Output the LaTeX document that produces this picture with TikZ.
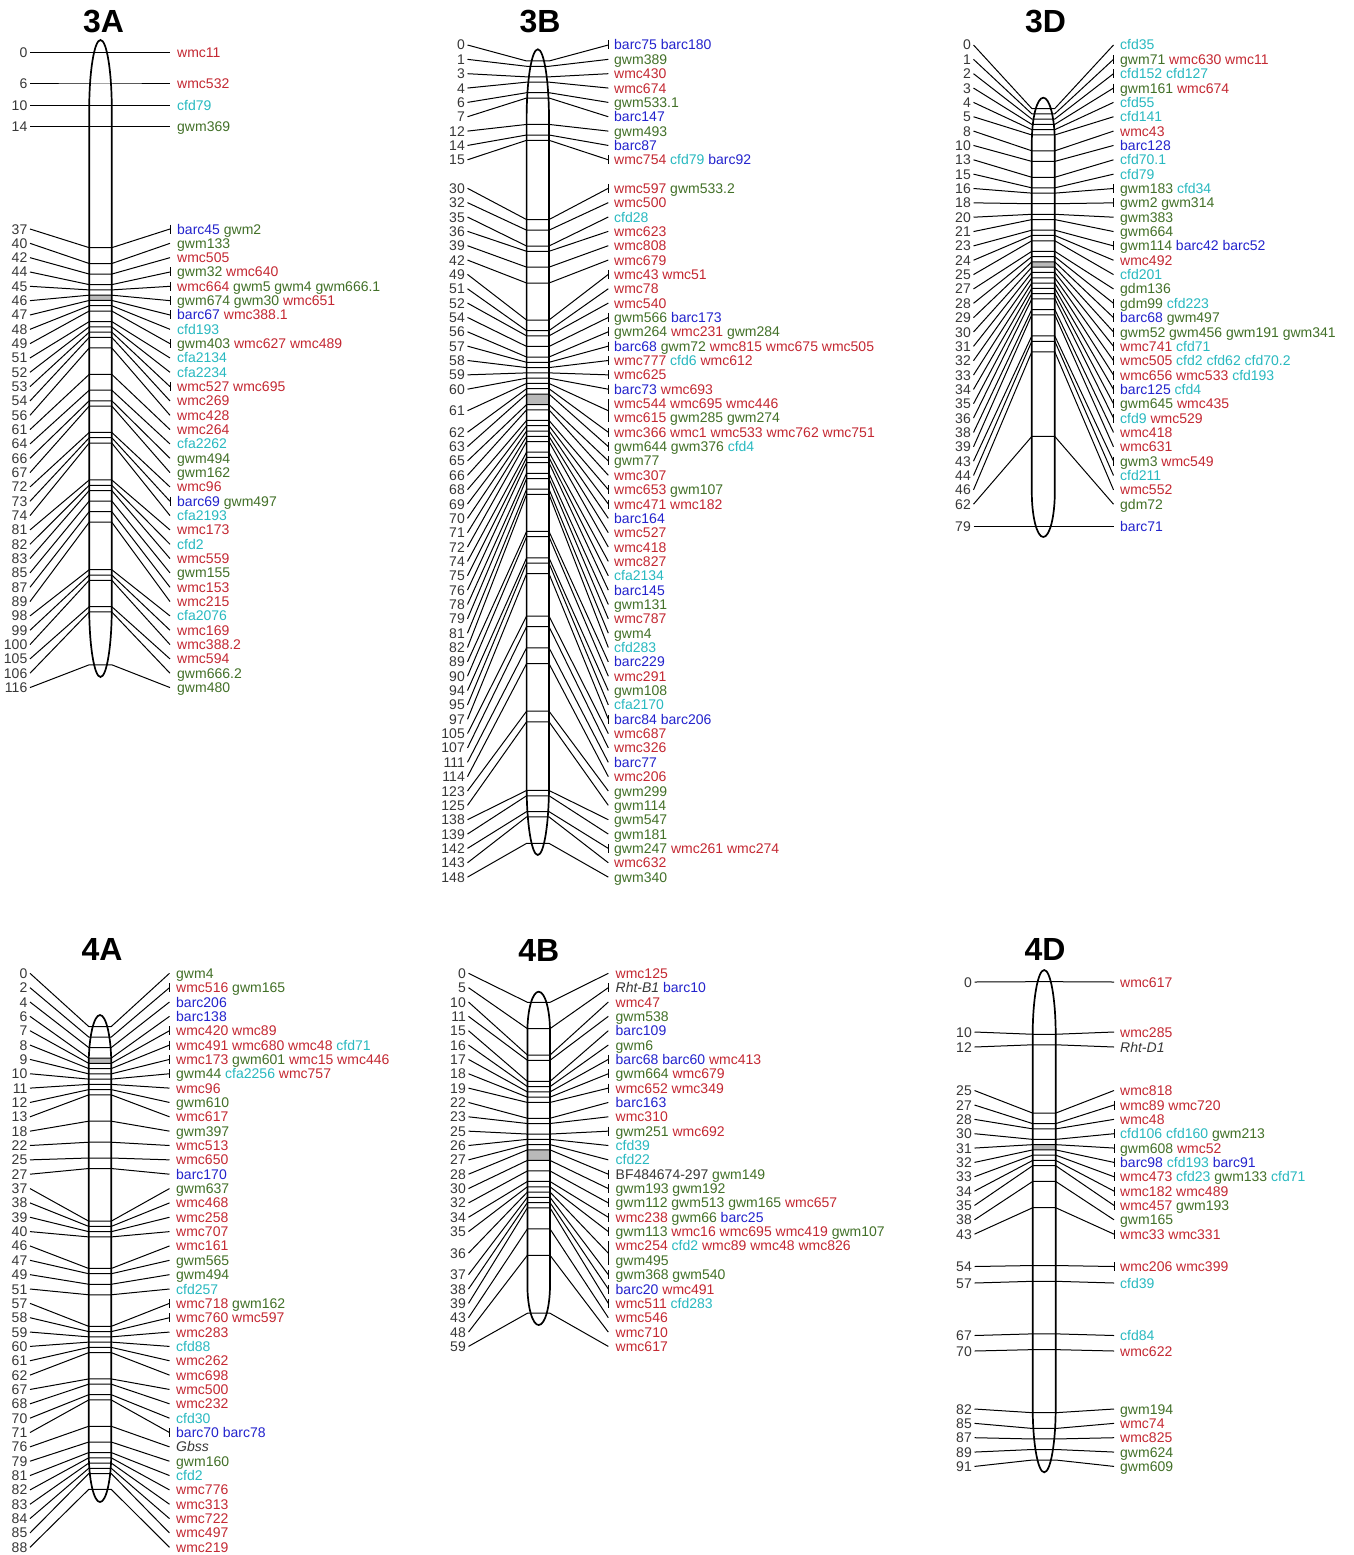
\documentclass[tikz,border=0pt]{standalone}
\usepackage{fontspec}
\setmainfont{Liberation Sans}
\definecolor{mred}{RGB}{196,40,50}
\definecolor{mgreen}{RGB}{66,112,40}
\definecolor{mcyan}{RGB}{40,185,192}
\definecolor{mblue}{RGB}{35,35,205}
\definecolor{mgray}{RGB}{55,55,55}
\definecolor{cgray}{RGB}{185,185,185}
\newcommand\mR[1]{\textcolor{mred}{#1}}
\newcommand\mG[1]{\textcolor{mgreen}{#1}}
\newcommand\mC[1]{\textcolor{mcyan}{#1}}
\newcommand\mB[1]{\textcolor{mblue}{#1}}
\newcommand\mK[1]{\textcolor{mgray}{#1}}
\newcommand\mI[1]{\textcolor{mgray}{\itshape #1}}
\tikzset{
  num/.style={anchor=east, inner xsep=2.5pt, inner ysep=0pt, text height=10pt, text depth=0pt, font=\fontsize{14}{15}\selectfont, text=mgray},
  lbl/.style={anchor=west, inner sep=0pt, text height=10pt, text depth=0pt, font=\fontsize{14}{15}\selectfont},
  conn/.style={line width=1pt, black, line join=round},
  chr/.style={line width=1.7pt, black},
  ttl/.style={font=\fontsize{32}{32}\selectfont\bfseries, inner sep=0pt}
}
% group parameters: name, chromosome centre x, half width, y of 0 cM, px per cM, number x, bar x, text x, row step
\newcommand\setgrp[9]{\def\gname{#1}\def\gcx{#2}\def\gcw{#3}\def\gyz{#4}\def\gsc{#5}\def\gxl{#6}\def\gxb{#7}\def\gxt{#8}\def\gstep{#9}}
\newcommand\rowat[1]{\pgfmathsetmacro\grow{#1}}
\newcommand\mk[3]{%
  \pgfmathsetmacro\gyt{\gyz+#1*\gsc}%
  \node[num] (\gname n#1) at (\gxl,\grow) {#1};
  \coordinate (\gname a#1) at (\gcx-\gcw,\gyt);
  \coordinate (\gname b#1) at (\gcx+\gcw,\gyt);
  \coordinate (\gname c#1) at (\gxb,\grow);
  \node[lbl] (\gname m#1) at (\gxt,\grow) {#2};
  \draw[conn] (\gname n#1.east) -- (\gname a#1) -- (\gname b#1) -- (\gname c#1);
  \ifnum#3=1\relax \draw[conn] ([yshift=4.5pt]\gname c#1) -- ([yshift=-4.5pt]\gname c#1);\fi
  \pgfmathsetmacro\grow{\grow+\gstep}%
}
\newcommand\mkh[3]{\pgfmathsetmacro\grow{\gyz+#1*\gsc}\mk{#1}{#2}{#3}}
\newcommand\mka[4]{\rowat{#1}\mk{#2}{#3}{#4}}
\newcommand\mktwo[3]{%
  \pgfmathsetmacro\gyt{\gyz+#1*\gsc}%
  \pgfmathsetmacro\gym{\grow+0.5*\gstep}%
  \pgfmathsetmacro\gyb{\grow+\gstep}%
  \node[num] (\gname n#1) at (\gxl,\gym) {#1};
  \coordinate (\gname a#1) at (\gcx-\gcw,\gyt);
  \coordinate (\gname b#1) at (\gcx+\gcw,\gyt);
  \coordinate (\gname c#1) at (\gxb,\gym);
  \coordinate (\gname t#1) at (\gxb,\grow-4.5);
  \coordinate (\gname u#1) at (\gxb,\gyb+4.5);
  \node[lbl] (\gname m#1) at (\gxt,\grow) {#2};
  \node[lbl] (\gname mm#1) at (\gxt,\gyb) {#3};
  \draw[conn] (\gname n#1.east) -- (\gname a#1) -- (\gname b#1) -- (\gname c#1);
  \draw[conn] (\gname t#1) -- (\gname u#1);
  \pgfmathsetmacro\grow{\grow+2*\gstep}%
}
% chromosome outline: cx, half width, top tip, bottom tip, cap length
\newcommand\chromo[5]{%
  \draw[chr] (#1-#2,#3+#5) .. controls (#1-#2,#3+0.448*#5) and (#1-0.552*#2,#3) .. (#1,#3)
    .. controls (#1+0.552*#2,#3) and (#1+#2,#3+0.448*#5) .. (#1+#2,#3+#5)
    -- (#1+#2,#4-#5) .. controls (#1+#2,#4-0.448*#5) and (#1+0.552*#2,#4) .. (#1,#4)
    .. controls (#1-0.552*#2,#4) and (#1-#2,#4-0.448*#5) .. (#1-#2,#4-#5) -- cycle;}
\begin{document}
\begin{tikzpicture}[x=1pt,y=-1pt]
\fill[white] (0,0) rectangle (1354,1555);
\useasboundingbox (0,0) rectangle (1354,1555);

% ================= 3A =================
\node[ttl] (t3A) at (103.5,21.5) {3A};
\setgrp{3A}{100.5}{11.3}{52.3}{5.28}{30}{170}{177}{14.33}
\fill[cgray] (\gcx-\gcw,295.2) rectangle (\gcx+\gcw,300.5);
\mkh{0}{\mR{wmc11}}{0}
\mkh{6}{\mR{wmc532}}{0}
\mkh{10}{\mC{cfd79}}{0}
\mkh{14}{\mG{gwm369}}{0}
\rowat{229}
\mk{37}{\mB{barc45} \mG{gwm2}}{1}
\mk{40}{\mG{gwm133}}{0}
\mk{42}{\mR{wmc505}}{0}
\mk{44}{\mG{gwm32} \mR{wmc640}}{1}
\mk{45}{\mR{wmc664} \mG{gwm5 gwm4 gwm666.1}}{1}
\mk{46}{\mG{gwm674 gwm30} \mR{wmc651}}{1}
\mk{47}{\mB{barc67} \mR{wmc388.1}}{1}
\mk{48}{\mC{cfd193}}{0}
\mk{49}{\mG{gwm403} \mR{wmc627 wmc489}}{1}
\mk{51}{\mC{cfa2134}}{0}
\mk{52}{\mC{cfa2234}}{0}
\mk{53}{\mR{wmc527 wmc695}}{1}
\mk{54}{\mR{wmc269}}{0}
\mk{56}{\mR{wmc428}}{0}
\mk{61}{\mR{wmc264}}{0}
\mk{64}{\mC{cfa2262}}{0}
\mk{66}{\mG{gwm494}}{0}
\mk{67}{\mG{gwm162}}{0}
\mk{72}{\mR{wmc96}}{0}
\mk{73}{\mB{barc69} \mG{gwm497}}{1}
\mk{74}{\mC{cfa2193}}{0}
\mk{81}{\mR{wmc173}}{0}
\mk{82}{\mC{cfd2}}{0}
\mk{83}{\mR{wmc559}}{0}
\mk{85}{\mG{gwm155}}{0}
\mk{87}{\mR{wmc153}}{0}
\mk{89}{\mR{wmc215}}{0}
\mk{98}{\mC{cfa2076}}{0}
\mk{99}{\mR{wmc169}}{0}
\mk{100}{\mR{wmc388.2}}{0}
\mk{105}{\mR{wmc594}}{0}
\mk{106}{\mG{gwm666.2}}{0}
\mk{116}{\mG{gwm480}}{0}
\chromo{100.5}{11.3}{40}{677}{70}

% ================= 3B =================
\node[ttl] (t3B) at (540,21.5) {3B};
\setgrp{3B}{537.8}{11.2}{61}{5.286}{467.5}{608.3}{614}{14.35}
\fill[cgray] (\gcx-\gcw,394.0) rectangle (\gcx+\gcw,404.6);
\rowat{45}
\mk{0}{\mB{barc75 barc180}}{1}
\mk{1}{\mG{gwm389}}{0}
\mk{3}{\mR{wmc430}}{0}
\mk{4}{\mR{wmc674}}{0}
\mk{6}{\mG{gwm533.1}}{0}
\mk{7}{\mB{barc147}}{0}
\mk{12}{\mG{gwm493}}{0}
\mk{14}{\mB{barc87}}{0}
\mk{15}{\mR{wmc754} \mC{cfd79} \mB{barc92}}{1}
\rowat{188.3}
\mk{30}{\mR{wmc597} \mG{gwm533.2}}{1}
\mk{32}{\mR{wmc500}}{0}
\mk{35}{\mC{cfd28}}{0}
\mk{36}{\mR{wmc623}}{0}
\mk{39}{\mR{wmc808}}{0}
\mk{42}{\mR{wmc679}}{0}
\mk{49}{\mR{wmc43 wmc51}}{1}
\mk{51}{\mR{wmc78}}{0}
\mk{52}{\mR{wmc540}}{0}
\mk{54}{\mG{gwm566} \mB{barc173}}{1}
\mk{56}{\mG{gwm264} \mR{wmc231} \mG{gwm284}}{1}
\mk{57}{\mB{barc68} \mG{gwm72} \mR{wmc815 wmc675 wmc505}}{1}
\mk{58}{\mR{wmc777} \mC{cfd6} \mR{wmc612}}{1}
\mk{59}{\mR{wmc625}}{1}
\mk{60}{\mB{barc73} \mR{wmc693}}{1}
\mktwo{61}{\mR{wmc544 wmc695 wmc446}}{\mR{wmc615} \mG{gwm285 gwm274}}
\mk{62}{\mR{wmc366 wmc1 wmc533 wmc762 wmc751}}{1}
\mk{63}{\mG{gwm644 gwm376} \mC{cfd4}}{1}
\mk{65}{\mG{gwm77}}{1}
\mk{66}{\mR{wmc307}}{0}
\mk{68}{\mR{wmc653} \mG{gwm107}}{1}
\mk{69}{\mR{wmc471 wmc182}}{1}
\mk{70}{\mB{barc164}}{0}
\mk{71}{\mR{wmc527}}{0}
\mk{72}{\mR{wmc418}}{0}
\mk{74}{\mR{wmc827}}{0}
\mk{75}{\mC{cfa2134}}{0}
\mk{76}{\mB{barc145}}{0}
\mk{78}{\mG{gwm131}}{0}
\mk{79}{\mR{wmc787}}{0}
\mk{81}{\mG{gwm4}}{0}
\mk{82}{\mC{cfd283}}{0}
\mk{89}{\mB{barc229}}{0}
\mk{90}{\mR{wmc291}}{0}
\mk{94}{\mG{gwm108}}{0}
\mk{95}{\mC{cfa2170}}{0}
\mk{97}{\mB{barc84 barc206}}{1}
\mk{105}{\mR{wmc687}}{0}
\mk{107}{\mR{wmc326}}{0}
\mk{111}{\mB{barc77}}{0}
\mk{114}{\mR{wmc206}}{0}
\mk{123}{\mG{gwm299}}{0}
\mk{125}{\mG{gwm114}}{0}
\mk{138}{\mG{gwm547}}{0}
\mk{139}{\mG{gwm181}}{0}
\mk{142}{\mG{gwm247} \mR{wmc261 wmc274}}{1}
\mk{143}{\mR{wmc632}}{0}
\mk{148}{\mG{gwm340}}{0}
\chromo{537.8}{11.2}{49.3}{855}{70}

% ================= 3D =================
\node[ttl] (t3D) at (1045.5,21.5) {3D};
\setgrp{3D}{1043.3}{11.5}{108.5}{5.29}{973.5}{1113.5}{1120}{14.35}
\fill[cgray] (\gcx-\gcw,261.9) rectangle (\gcx+\gcw,267.2);
\rowat{45}
\mk{0}{\mC{cfd35}}{0}
\mk{1}{\mG{gwm71} \mR{wmc630 wmc11}}{1}
\mk{2}{\mC{cfd152 cfd127}}{1}
\mk{3}{\mG{gwm161} \mR{wmc674}}{1}
\mk{4}{\mC{cfd55}}{0}
\mk{5}{\mC{cfd141}}{0}
\mk{8}{\mR{wmc43}}{0}
\mk{10}{\mB{barc128}}{0}
\mk{13}{\mC{cfd70.1}}{0}
\mk{15}{\mC{cfd79}}{0}
\mk{16}{\mG{gwm183} \mC{cfd34}}{1}
\mk{18}{\mG{gwm2 gwm314}}{1}
\mk{20}{\mG{gwm383}}{0}
\mk{21}{\mG{gwm664}}{0}
\mk{23}{\mG{gwm114} \mB{barc42 barc52}}{1}
\mk{24}{\mR{wmc492}}{0}
\mk{25}{\mC{cfd201}}{0}
\mk{27}{\mG{gdm136}}{0}
\mk{28}{\mG{gdm99} \mC{cfd223}}{1}
\mk{29}{\mB{barc68} \mG{gwm497}}{1}
\mk{30}{\mG{gwm52 gwm456 gwm191 gwm341}}{1}
\mk{31}{\mR{wmc741} \mC{cfd71}}{1}
\mk{32}{\mR{wmc505} \mC{cfd2 cfd62 cfd70.2}}{1}
\mk{33}{\mR{wmc656 wmc533} \mC{cfd193}}{1}
\mk{34}{\mB{barc125} \mC{cfd4}}{1}
\mk{35}{\mG{gwm645} \mR{wmc435}}{1}
\mk{36}{\mC{cfd9} \mR{wmc529}}{1}
\mk{38}{\mR{wmc418}}{0}
\mk{39}{\mR{wmc631}}{0}
\mk{43}{\mG{gwm3} \mR{wmc549}}{1}
\mk{44}{\mC{cfd211}}{0}
\mk{46}{\mR{wmc552}}{0}
\mk{62}{\mG{gdm72}}{0}
\mkh{79}{\mB{barc71}}{0}
\chromo{1043.3}{11.5}{97.7}{537}{45}

% ================= 4A =================
\node[ttl] (t4A) at (102,949) {4A};
\setgrp{4A}{100}{11.3}{1026.5}{5.26}{30}{169.5}{176}{14.35}
\fill[cgray] (\gcx-\gcw,1058.1) rectangle (\gcx+\gcw,1063.3);
\rowat{973.3}
\mk{0}{\mG{gwm4}}{0}
\mk{2}{\mR{wmc516} \mG{gwm165}}{1}
\mk{4}{\mB{barc206}}{0}
\mk{6}{\mB{barc138}}{0}
\mk{7}{\mR{wmc420 wmc89}}{1}
\mk{8}{\mR{wmc491 wmc680 wmc48} \mC{cfd71}}{1}
\mk{9}{\mR{wmc173} \mG{gwm601} \mR{wmc15 wmc446}}{1}
\mk{10}{\mG{gwm44} \mC{cfa2256} \mR{wmc757}}{1}
\mk{11}{\mR{wmc96}}{0}
\mk{12}{\mG{gwm610}}{0}
\mk{13}{\mR{wmc617}}{0}
\mk{18}{\mG{gwm397}}{0}
\mk{22}{\mR{wmc513}}{0}
\mk{25}{\mR{wmc650}}{0}
\mk{27}{\mB{barc170}}{0}
\mk{37}{\mG{gwm637}}{0}
\mk{38}{\mR{wmc468}}{0}
\mk{39}{\mR{wmc258}}{0}
\mk{40}{\mR{wmc707}}{0}
\mk{46}{\mR{wmc161}}{0}
\mk{47}{\mG{gwm565}}{0}
\mk{49}{\mG{gwm494}}{0}
\mk{51}{\mC{cfd257}}{0}
\mk{57}{\mR{wmc718} \mG{gwm162}}{1}
\mk{58}{\mR{wmc760 wmc597}}{1}
\mk{59}{\mR{wmc283}}{0}
\mk{60}{\mC{cfd88}}{0}
\mk{61}{\mR{wmc262}}{0}
\mk{62}{\mR{wmc698}}{0}
\mk{67}{\mR{wmc500}}{0}
\mk{68}{\mR{wmc232}}{0}
\mk{70}{\mC{cfd30}}{0}
\mk{71}{\mB{barc70 barc78}}{1}
\mk{76}{\mI{Gbss}}{0}
\mk{79}{\mG{gwm160}}{0}
\mk{81}{\mC{cfd2}}{0}
\mk{82}{\mR{wmc776}}{0}
\mk{83}{\mR{wmc313}}{0}
\mk{84}{\mR{wmc722}}{0}
\mk{85}{\mR{wmc497}}{0}
\mk{88}{\mR{wmc219}}{0}
\chromo{100}{11.3}{1015}{1502}{50}

% ================= 4B =================
\node[ttl] (t4B) at (538.7,950) {4B};
\setgrp{4B}{538.7}{11.3}{1002.3}{5.27}{468.5}{608.3}{615.5}{14.35}
\fill[cgray] (\gcx-\gcw,1150) rectangle (\gcx+\gcw,1160.4);
\rowat{973.3}
\mk{0}{\mR{wmc125}}{0}
\mk{5}{\mI{Rht-B1} \mB{barc10}}{1}
\mk{10}{\mR{wmc47}}{0}
\mk{11}{\mG{gwm538}}{0}
\mk{15}{\mB{barc109}}{0}
\mk{16}{\mG{gwm6}}{0}
\mk{17}{\mB{barc68 barc60} \mR{wmc413}}{1}
\mk{18}{\mG{gwm664} \mR{wmc679}}{1}
\mk{19}{\mR{wmc652 wmc349}}{1}
\mk{22}{\mB{barc163}}{0}
\mk{23}{\mR{wmc310}}{0}
\mk{25}{\mG{gwm251} \mR{wmc692}}{1}
\mk{26}{\mC{cfd39}}{0}
\mk{27}{\mC{cfd22}}{0}
\mk{28}{\mK{BF484674-297} \mG{gwm149}}{1}
\mk{30}{\mG{gwm193 gwm192}}{1}
\mk{32}{\mG{gwm112 gwm513 gwm165} \mR{wmc657}}{1}
\mk{34}{\mR{wmc238} \mG{gwm66} \mB{barc25}}{1}
\mk{35}{\mG{gwm113} \mR{wmc16 wmc695 wmc419} \mG{gwm107}}{1}
\mktwo{36}{\mR{wmc254} \mC{cfd2} \mR{wmc89 wmc48 wmc826}}{\mG{gwm495}}
\mk{37}{\mG{gwm368 gwm540}}{1}
\mk{38}{\mB{barc20} \mR{wmc491}}{1}
\mk{39}{\mR{wmc511} \mC{cfd283}}{1}
\mk{43}{\mR{wmc546}}{0}
\mk{48}{\mR{wmc710}}{0}
\mk{59}{\mR{wmc617}}{0}
\chromo{538.7}{11.3}{991.7}{1325}{40}

% ================= 4D =================
\node[ttl] (t4D) at (1045,949) {4D};
\setgrp{4D}{1044.2}{11.5}{981.7}{5.256}{974.5}{1114}{1120}{14.35}
\fill[cgray] (\gcx-\gcw,1144.6) rectangle (\gcx+\gcw,1149.9);
\mka{982}{0}{\mR{wmc617}}{0}
\mka{1032}{10}{\mR{wmc285}}{0}
\mka{1047}{12}{\mI{Rht-D1}}{0}
\mka{1090.5}{25}{\mR{wmc818}}{0}
\mka{1105}{27}{\mR{wmc89 wmc720}}{1}
\mk{28}{\mR{wmc48}}{0}
\mk{30}{\mC{cfd106 cfd160} \mG{gwm213}}{1}
\mk{31}{\mG{gwm608} \mR{wmc52}}{1}
\mk{32}{\mB{barc98} \mC{cfd193} \mB{barc91}}{1}
\mk{33}{\mR{wmc473} \mC{cfd23} \mG{gwm133} \mC{cfd71}}{1}
\mk{34}{\mR{wmc182 wmc489}}{1}
\mk{35}{\mR{wmc457} \mG{gwm193}}{1}
\mk{38}{\mG{gwm165}}{0}
\mk{43}{\mR{wmc33 wmc331}}{1}
\mka{1266.5}{54}{\mR{wmc206 wmc399}}{1}
\mka{1283}{57}{\mC{cfd39}}{0}
\mka{1335.5}{67}{\mC{cfd84}}{0}
\mka{1351}{70}{\mR{wmc622}}{0}
\rowat{1409}
\mk{82}{\mG{gwm194}}{0}
\mk{85}{\mR{wmc74}}{0}
\mk{87}{\mR{wmc825}}{0}
\mk{89}{\mG{gwm624}}{0}
\mk{91}{\mG{gwm609}}{0}
\chromo{1044.2}{11.5}{970}{1472.3}{65}
\end{tikzpicture}
\end{document}
